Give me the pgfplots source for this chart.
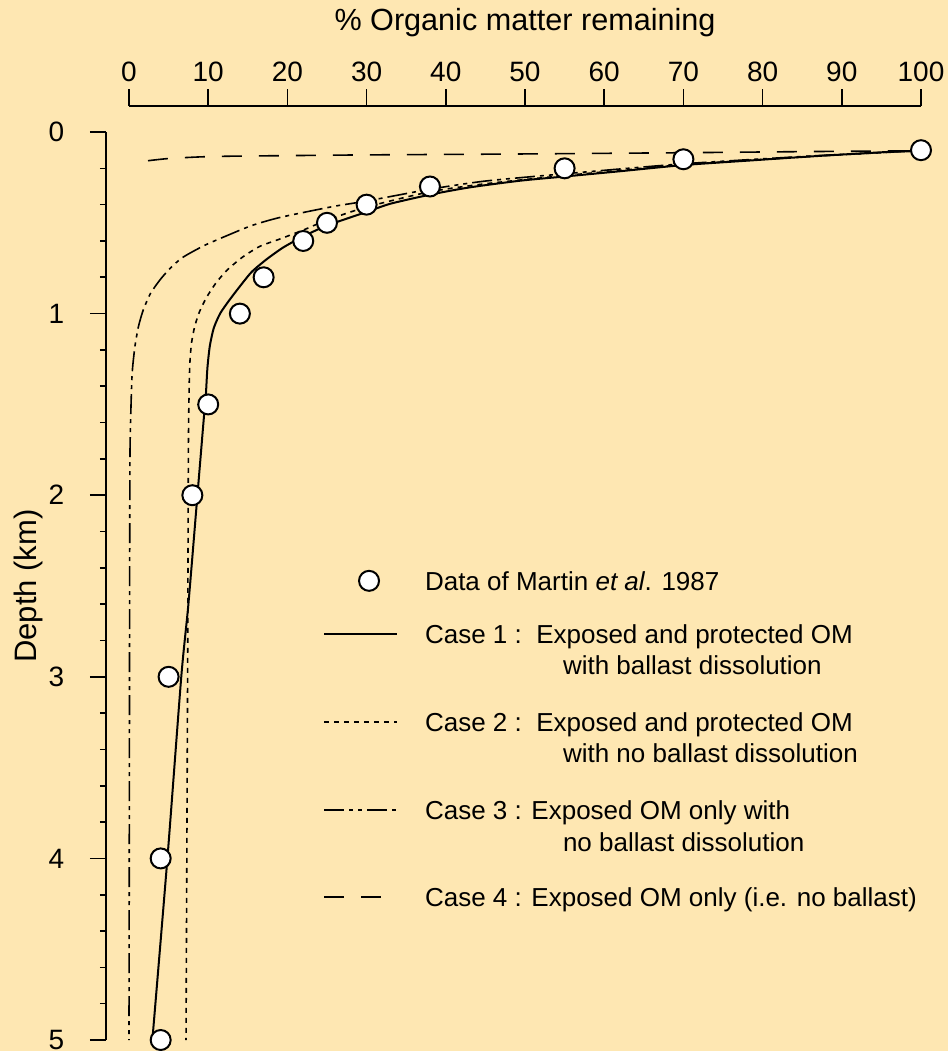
\documentclass[border=0pt]{standalone}
\usepackage{fontspec}
\setmainfont{Liberation Sans}
\usepackage{pgfplots}
\pgfplotsset{compat=1.18}

\definecolor{bg}{RGB}{254,231,178}
% row strut: height 11pt, depth #1
\newcommand\rs[1]{\rule[-#1]{0pt}{\dimexpr#1+11pt\relax}}

\pgfplotsset{
  case1/.style={black, line width=1pt},
  case2/.style={black, line width=0.8pt, dash pattern=on 2.5pt off 2.5pt},
  case3/.style={black, line width=0.8pt, dash pattern=on 10pt off 2.5pt on 2pt off 2.5pt on 2pt off 2.5pt},
  case4/.style={black, line width=0.8pt, dash pattern=on 10pt off 8.5pt},
  martin/.style={only marks, mark=*, mark size=5pt,
    mark options={fill=white, draw=black, line width=1pt, solid}},
  dotleg/.style={legend image code/.code={\draw[##1] plot coordinates {(22.5pt,4.6pt)};}},
  lineleg/.style={legend image code/.code={\draw[##1] (0pt,4.6pt) -- (36.5pt,4.6pt);}},
  noleg/.style={legend image code/.code={}},
}

\begin{document}
\begin{tikzpicture}
\path[use as bounding box, fill=bg] (-64.5pt,66pt) rectangle (409.5pt,-459.5pt);

% top x axis (offset above the data area)
\begin{axis}[
    at={(0,13pt)}, anchor=north west,
    width=396pt, height=10pt, scale only axis,
    xmin=0, xmax=100, ymin=0, ymax=1,
    axis x line=top, hide y axis,
    axis line style={-, line width=0.8pt},
    xtick={0,10,...,100},
    tick align=outside, major tick length=8.5pt,
    tick style={black, line width=0.8pt},
    xticklabel style={font=\fontsize{14}{16}\selectfont, /pgf/number format/assume math mode=true},
    xlabel={\% Organic matter remaining},
    every axis x label/.style={at={(axis description cs:0.5,4.75)}, anchor=base,
      font=\fontsize{15.3}{18}\selectfont},
  ]
\end{axis}

% left y axis (offset left of the data area)
\begin{axis}[
    at={(-11.5pt,0)}, anchor=north west,
    width=10pt, height=454pt, scale only axis,
    xmin=0, xmax=1, ymin=0, ymax=5, y dir=reverse,
    axis y line=left, hide x axis,
    axis line style={-, line width=0.8pt},
    ytick={0,1,...,5}, minor y tick num=4,
    tick align=outside, major tick length=8pt, minor tick length=3pt,
    tick style={black, line width=0.8pt},
    yticklabel style={font=\fontsize{14}{16}\selectfont, inner sep=0pt, xshift=-12.7pt,
      /pgf/number format/assume math mode=true},
    ylabel={Depth (km)},
    every axis y label/.style={at={(axis description cs:-3.45,0.5)}, rotate=90, anchor=base,
      font=\fontsize{15.5}{18}\selectfont},
  ]
\end{axis}

% data area
\begin{axis}[
    at={(0,0)}, anchor=north west,
    width=396pt, height=454pt, scale only axis,
    xmin=0, xmax=100, ymin=0, ymax=5, y dir=reverse,
    hide axis, clip=false,
    legend style={draw=none, fill=none, inner sep=0pt, outer sep=0pt,
      at={(axis description cs:0.245,0.5198)}, anchor=north west,
      row sep=0pt, column sep=13.5pt,
      cells={anchor=base west},
      nodes={inner sep=0pt, text depth=, text height=, font=\fontsize{13}{15}\selectfont}},
  ]
% Case 4: exposed OM only
\addplot[case4, smooth, tension=0.4, forget plot] coordinates {
  (2.4,0.158) (5,0.146) (9,0.137) (13,0.133) (20,0.130) (30,0.126)
  (49,0.121) (70,0.114) (85,0.108) (100,0.103)};
% Case 3: exposed OM only, no ballast dissolution
\addplot[case3, smooth, tension=0.4, forget plot] coordinates {
  (100,0.103) (87,0.13) (70,0.175) (55,0.23) (45,0.27) (38,0.315) (30,0.38)
  (25.8,0.41) (19.1,0.47) (15.5,0.515) (12.4,0.57) (9.5,0.625) (6.8,0.69)
  (5.2,0.75) (3.9,0.815) (2.7,0.89) (1.8,0.98) (1.2,1.07) (0.75,1.18)
  (0.45,1.30) (0.33,1.40) (0.13,1.75) (0.08,2.5) (0.05,3.5) (0.0,5.0)};
% Case 2: exposed and protected OM, no ballast dissolution
\addplot[case2, smooth, tension=0.4, forget plot] coordinates {
  (100,0.103) (87,0.132) (70,0.18) (55,0.24) (45,0.285) (38,0.329) (30,0.413)
  (25,0.485) (22,0.54) (19,0.59) (16.5,0.63) (14.3,0.69) (12.4,0.76)
  (11,0.83) (9.8,0.91) (8.9,0.99) (8.3,1.07) (7.9,1.16) (7.7,1.26)
  (7.6,1.40) (7.5,1.75) (7.4,3.0) (7.2,5.0)};
% Case 1: exposed and protected OM, ballast dissolution
\addplot[case1, smooth, tension=0.4, forget plot] coordinates {
  (100,0.103) (95.7,0.11) (87,0.132) (78,0.158) (70,0.182) (62,0.216)
  (55,0.245) (49.4,0.268) (43,0.305) (38,0.345) (33,0.395) (30,0.44)
  (25,0.515) (22,0.575) (19.5,0.635) (17.4,0.70) (15.5,0.77) (14,0.85)
  (12.6,0.93) (11.5,1.0) (10.7,1.08) (10.2,1.18) (9.9,1.30) (9.7,1.45)
  (9.4,1.6) (8.64,2.0) (7.5,2.6) (6.6,3.0) (4.85,4.0) (2.95,5.0)};
% Martin et al. 1987
\addplot[martin, forget plot] coordinates {
  (100,0.1) (70,0.15) (55,0.2) (38,0.3) (30,0.4) (25,0.5) (22,0.6)
  (17,0.8) (14,1.0) (10,1.5) (8,2.0) (5,3.0) (4,4.0) (4,5.0)};

\addlegendimage{martin, dotleg}
\addlegendentry{Data of Martin \textit{et al}. 1987\rs{15.5pt}}
\addlegendimage{case1, lineleg}
\addlegendentry{Case 1 :\ \ Exposed and protected OM\rs{4.5pt}}
\addlegendimage{noleg}
\addlegendentry{\hspace*{69pt}with ballast dissolution\rs{17.5pt}}
\addlegendimage{case2, lineleg}
\addlegendentry{Case 2 :\ \ Exposed and protected OM\rs{4.5pt}}
\addlegendimage{noleg}
\addlegendentry{\hspace*{69pt}with no ballast dissolution\rs{17.5pt}}
\addlegendimage{case3, lineleg}
\addlegendentry{Case 3 : Exposed OM only with\rs{5pt}}
\addlegendimage{noleg}
\addlegendentry{\hspace*{69pt}no ballast dissolution\rs{16.5pt}}
\addlegendimage{case4, lineleg}
\addlegendentry{Case 4 : Exposed OM only (i.e. no ballast)\rs{3pt}}
\end{axis}
\end{tikzpicture}
\end{document}
